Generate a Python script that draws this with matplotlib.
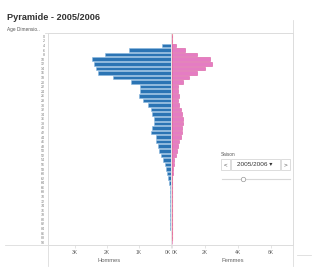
import matplotlib
matplotlib.use('Agg')
import matplotlib.pyplot as plt
from matplotlib.lines import Line2D
from matplotlib.patches import Rectangle
import numpy as np

plt.rcParams['font.family'] = ['Liberation Sans', 'DejaVu Sans']

# age groups (rows), shown top to bottom
ages = list(range(0, 92, 2))
# licence counts per age group
hommes = [0, 0, 270, 1290, 2050, 2460, 2380, 2330, 2270, 1810, 1220, 950,
          950, 980, 870, 690, 620, 590, 520, 510, 590, 620, 460, 460,
          400, 360, 300, 220, 170, 140, 100, 70, 50, 30, 20, 15,
          10, 8, 5, 3, 2, 1, 1, 0, 0, 0]
femmes = [0, 0, 220, 790, 1500, 2300, 2400, 2000, 1500, 1030, 680, 380,
          350, 440, 380, 440, 550, 620, 680, 680, 620, 590, 550, 440,
          350, 280, 220, 140, 100, 80, 40, 30, 20, 15, 10, 8,
          6, 5, 4, 3, 2, 2, 1, 1, 1, 0]
men_ticks = [3000, 2000, 1000, 0]
women_ticks = [0, 2000, 4000, 6000]

W, H = 315, 272
fig = plt.figure(figsize=(W / 100, H / 100), dpi=100)


def fx(x):
    return x / W


def fy(y):
    return 1 - y / H


top, bot = 33, 245
axL = fig.add_axes([fx(48), fy(bot), fx(170.5) - fx(48), fy(top) - fy(bot)])
axR = fig.add_axes([fx(172), fy(bot), fx(293) - fx(172), fy(top) - fy(bot)])

y = np.arange(len(ages))
blue = '#2b74b4'
pink = '#e57cc3'

axL.barh(y, hommes, height=0.78, color=blue, edgecolor='#8ab8e0', linewidth=0.4)
axR.barh(y, femmes, height=0.78, color=pink, edgecolor='#d9589f', linewidth=0.4)
axR.plot([0, 0], [-0.7, 44.6], color='#f29aa6', lw=0.8, zorder=0)

ylim = (45.6, -0.74)
for ax in (axL, axR):
    ax.set_ylim(*ylim)
    for s in ax.spines.values():
        s.set_color('#e0e0e0')
        s.set_linewidth(0.6)
    ax.tick_params(axis='x', length=2, width=0.4, color='#d0d0d0',
                   labelsize=3.6, labelcolor='#666666', pad=1.5)
    ax.tick_params(axis='y', length=0)

axL.set_xlim(3830, 0)
axL.set_xticks(men_ticks)
axL.set_xticklabels(['%dK' % (t // 1000) for t in men_ticks])
axL.get_xticklabels()[-1].set_ha('right')
axL.set_yticks(y)
axL.set_yticklabels([str(a) for a in ages], fontsize=2.6, color='#777777')
axL.tick_params(axis='y', pad=2)
axL.set_xlabel('Hommes', fontsize=4.2, color='#666666', labelpad=2)

axR.set_xlim(0, 7330)
axR.set_xticks(women_ticks)
axR.set_xticklabels(['%dK' % (t // 1000) for t in women_ticks])
axR.get_xticklabels()[0].set_ha('left')
axR.set_yticks([])
axR.spines['left'].set_visible(False)
axR.set_xlabel('Femmes', fontsize=4.2, color='#666666', labelpad=2)

# title and header
fig.text(fx(7), fy(17), 'Pyramide - 2005/2006', fontsize=6.6, fontweight='bold',
         color='#333333', va='center', ha='left')
fig.text(fx(7), fy(30), 'Age Dimensio..', fontsize=3.4, color='#555555',
         va='center', ha='left')

# frame lines around the view
lc = '#dcdcdc'
fig.add_artist(Line2D([fx(45), fx(293)], [fy(top), fy(top)], color=lc, lw=0.6))
fig.add_artist(Line2D([fx(48), fx(48)], [fy(top), fy(266)], color=lc, lw=0.6))
fig.add_artist(Line2D([fx(5), fx(293)], [fy(bot), fy(bot)], color=lc, lw=0.6))
fig.add_artist(Line2D([fx(293), fx(293)], [fy(20), fy(266)], color=lc, lw=0.6))
fig.add_artist(Line2D([fx(297), fx(311)], [fy(255), fy(255)], color=lc, lw=0.6))

# season filter widget
fig.text(fx(221), fy(154), 'Saison', fontsize=3.4, color='#555555', va='center')
bc = '#cfcfcf'
fig.add_artist(Rectangle((fx(221), fy(170)), fx(9), fy(0) - fy(11),
                         facecolor='white', edgecolor=bc, lw=0.5))
fig.add_artist(Rectangle((fx(231), fy(170)), fx(49), fy(0) - fy(11),
                         facecolor='white', edgecolor=bc, lw=0.5))
fig.add_artist(Rectangle((fx(281), fy(170)), fx(9), fy(0) - fy(11),
                         facecolor='white', edgecolor=bc, lw=0.5))
fig.text(fx(225.5), fy(164.5), '<', fontsize=4.5, color='#555555', ha='center', va='center')
fig.text(fx(285.5), fy(164.5), '>', fontsize=4.5, color='#555555', ha='center', va='center')
fig.text(fx(255), fy(164.5), '2005/2006 \u25be', fontsize=4.6, color='#333333',
         ha='center', va='center')
fig.add_artist(Line2D([fx(222), fx(290)], [fy(179), fy(179)], color='#d8d8d8', lw=0.8))
fig.add_artist(Line2D([fx(243)], [fy(179)], marker='o', markersize=3.2,
                      markerfacecolor='white', markeredgecolor='#999999',
                      markeredgewidth=0.5, linestyle='none'))

fig.savefig('out.png', dpi=100)
